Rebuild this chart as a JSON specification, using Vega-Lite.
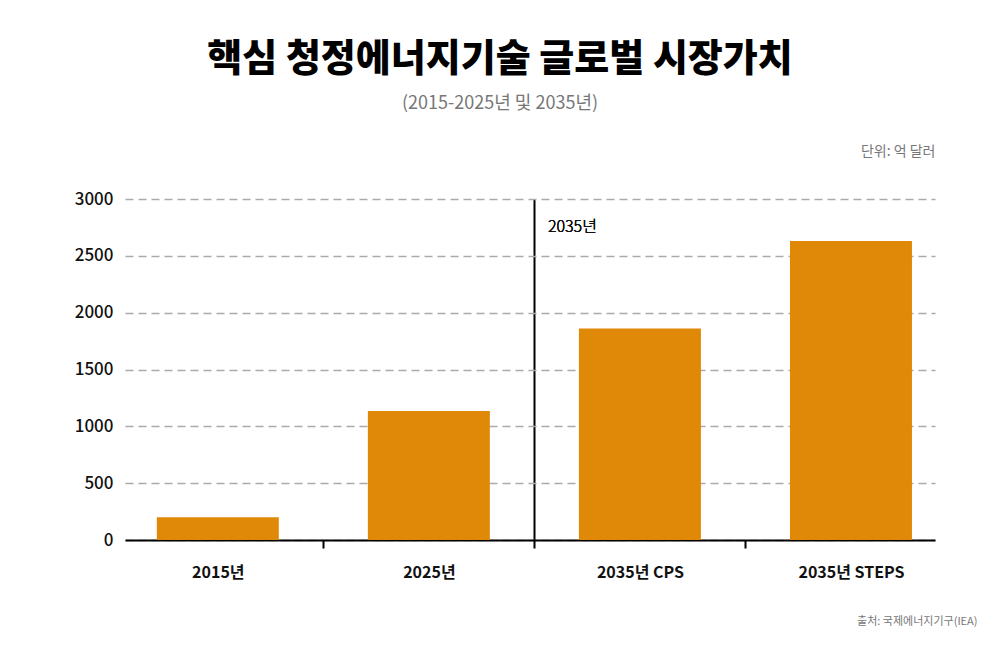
{
  "$schema": "https://vega.github.io/schema/vega-lite/v6.json",
  "description": "핵심 청정에너지기술 글로벌 시장가치",
  "autosize": {"type": "none"},
  "width": 810,
  "height": 341,
  "padding": {"left": 125, "top": 199, "right": 65, "bottom": 110},
  "background": "white",
  "config": {
    "font": "Noto Sans CJK KR",
    "view": {"stroke": null}
  },
  "title": {
    "text": "핵심 청정에너지기술 글로벌 시장가치",
    "subtitle": "(2015-2025년 및 2035년)",
    "anchor": "middle",
    "frame": "group",
    "dx": -30,
    "offset": 31,
    "fontSize": 38,
    "fontWeight": 900,
    "color": "#000000",
    "subtitleFontSize": 18,
    "subtitleColor": "#777777",
    "subtitleFontWeight": 400,
    "subtitlePadding": 16
  },
  "data": {
    "values": [
      {"category": "2015년", "value": 200},
      {"category": "2025년", "value": 1135},
      {"category": "2035년 CPS", "value": 1860},
      {"category": "2035년 STEPS", "value": 2630}
    ]
  },
  "layer": [
    {
      "mark": {"type": "bar", "color": "#E08808"},
      "encoding": {
        "x": {
          "field": "category",
          "type": "nominal",
          "sort": null,
          "scale": {"paddingInner": 0.422, "paddingOuter": 0.13, "align": 0.58},
          "axis": {
            "title": "출처: 국제에너지기구(IEA)",
            "titleX": 852,
            "titleY": 84,
            "titleAlign": "right",
            "titleAnchor": null,
            "titleBaseline": "alphabetic",
            "titleFontSize": 11,
            "titleFontWeight": 400,
            "titleColor": "#777777",
            "labelAngle": 0,
            "labelFontSize": 16,
            "labelFontWeight": 700,
            "labelColor": "#111111",
            "labelPadding": 16,
            "labelOffset": -105.5,
            "domainColor": "#000000",
            "domainWidth": 2,
            "tickOffset": 105.5,
            "tickSize": 8,
            "tickWidth": 2,
            "tickColor": {
              "condition": {"test": "datum.value === '2035년 STEPS'", "value": "transparent"},
              "value": "#000000"
            },
            "grid": true,
            "gridWidth": 2,
            "gridColor": {
              "condition": {"test": "datum.value === '2025년'", "value": "#000000"},
              "value": "transparent"
            }
          }
        },
        "y": {
          "field": "value",
          "type": "quantitative",
          "scale": {"domain": [0, 3000], "nice": false},
          "axis": {
            "values": [0, 500, 1000, 1500, 2000, 2500, 3000],
            "format": "d",
            "title": "단위: 억 달러",
            "titleAngle": 0,
            "titleX": 810,
            "titleY": -44,
            "titleAlign": "right",
            "titleAnchor": null,
            "titleBaseline": "alphabetic",
            "titleFontSize": 14,
            "titleFontWeight": 400,
            "titleColor": "#777777",
            "domain": false,
            "ticks": false,
            "labelFontSize": 17,
            "labelFontWeight": 500,
            "labelColor": "#111111",
            "labelPadding": 12,
            "gridColor": "#aaaaaa",
            "gridWidth": 1.5,
            "gridDash": [8, 5]
          }
        }
      }
    },
    {
      "mark": {"type": "text", "text": "2035년", "align": "left", "baseline": "middle", "fontSize": 16, "fontWeight": 300, "color": "#111111", "dx": -31},
      "encoding": {
        "x": {"datum": "2035년 CPS", "type": "nominal", "bandPosition": 0},
        "y": {"datum": 2750, "type": "quantitative"}
      }
    }
  ]
}
